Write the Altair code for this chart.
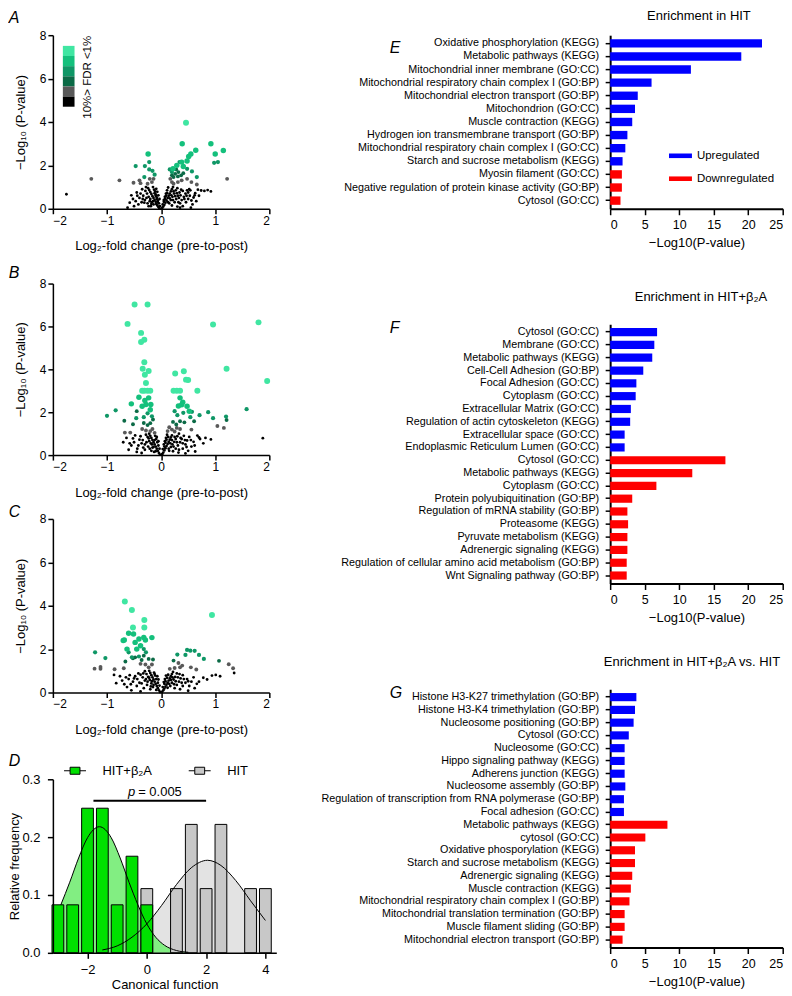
import altair as alt
import pandas as pd

FONT = "Liberation Sans"

# ---------------- Panels A-C : volcano plots ----------------
CAT_ORDER = ["FDR<1%", "FDR-2", "FDR-3", "FDR-4", "FDR<10%", "NS"]
CAT_COLORS = ["#40e6a2", "#14c07c", "#0f9766", "#0b6a46", "#595959", "#000000"]
CAT_SIZES = [36, 30, 18, 15, 15, 8]
DRAW_ORDER = ["NS", "FDR<10%", "FDR-4", "FDR-3", "FDR-2", "FDR<1%"]

A_C1 = [(0.46, 3.96)]
A_C2 = [(0.39, 3.00), (0.92, 3.00), (-0.24, 2.52), (0.64, 2.70), (0.55, 2.52), (0.51, 2.41),
        (1.15, 2.69), (1.00, 2.52), (0.48, 2.20), (0.38, 2.15), (0.29, 2.00), (0.41, 1.95), (0.22, 1.84)]
A_C3 = [(-0.47, 1.97), (-0.30, 1.97), (-0.22, 2.15), (-0.22, 1.81), (-0.16, 1.75), (-0.12, 1.57),
        (-0.31, 1.46), (0.98, 2.12), (1.05, 2.15), (0.57, 1.72), (0.66, 1.46), (0.20, 1.69),
        (0.16, 1.81), (0.34, 2.15), (0.48, 1.84)]
A_C4 = [(0.26, 1.61), (0.32, 1.69), (0.37, 1.54), (0.23, 1.46), (0.31, 1.49), (0.41, 1.64),
        (0.20, 1.54), (0.28, 1.81)]
A_GR = [(-1.29, 1.38), (-0.77, 1.31), (-0.51, 1.20), (-0.40, 1.31), (-0.38, 1.18), (-0.21, 1.38),
        (-0.17, 1.23), (-0.25, 1.15), (-0.14, 1.38), (0.20, 1.23), (0.23, 1.15), (0.31, 1.23),
        (0.38, 1.31), (0.48, 1.38), (0.56, 1.23), (0.66, 1.12), (1.22, 1.38), (0.17, 1.38)]
A_NS = [(-0.03, 0.02), (-0.05, 0.08), (-0.07, 0.15), (-0.09, 0.22), (-0.10, 0.32), (-0.12, 0.40),
        (-0.14, 0.50), (-0.16, 0.58), (-0.18, 0.68), (-0.20, 0.77), (-0.22, 0.86), (-0.24, 0.95),
        (-0.06, 0.30), (-0.08, 0.45), (-0.10, 0.60), (-0.12, 0.72), (-0.13, 0.88), (-0.15, 1.00),
        (-0.17, 0.30), (-0.20, 0.45), (-0.23, 0.55), (-0.26, 0.70), (-0.29, 0.82), (-0.14, 0.20),
        (-0.19, 0.12), (-0.25, 0.25), (-0.30, 0.40), (-0.33, 0.60), (-0.36, 0.30), (-0.40, 0.50),
        (-0.42, 0.20), (-0.47, 0.35), (-0.50, 0.12), (-0.58, 0.28), (-0.62, 0.05), (-0.35, 0.90),
        (-0.28, 1.00), (-1.75, 0.67), (0.02, 0.03), (0.04, 0.10), (0.06, 0.18), (0.08, 0.28),
        (0.10, 0.38), (0.12, 0.50), (0.14, 0.60), (0.16, 0.70), (0.18, 0.80), (0.20, 0.90),
        (0.22, 1.00), (0.05, 0.40), (0.07, 0.55), (0.09, 0.70), (0.11, 0.85), (0.13, 0.98),
        (0.15, 0.25), (0.18, 0.40), (0.21, 0.55), (0.24, 0.70), (0.27, 0.85), (0.30, 0.95),
        (0.20, 0.15), (0.25, 0.30), (0.28, 0.45), (0.31, 0.60), (0.34, 0.75), (0.37, 0.88),
        (0.30, 0.10), (0.35, 0.25), (0.38, 0.40), (0.42, 0.55), (0.45, 0.70), (0.48, 0.85),
        (0.40, 0.12), (0.46, 0.30), (0.50, 0.45), (0.53, 0.60), (0.56, 0.38), (0.60, 0.52),
        (0.58, 0.20), (0.63, 0.72), (0.52, 0.90), (0.68, 0.88), (0.74, 0.84), (0.80, 0.82),
        (0.86, 0.86), (0.92, 0.80), (0.65, 0.35), (0.55, 0.05),
        (-0.02, 0.12), (-0.04, 0.25), (-0.06, 0.38), (-0.08, 0.52), (-0.10, 0.66), (-0.11, 0.80),
        (-0.03, 0.45), (-0.05, 0.62), (-0.07, 0.78), (-0.09, 0.92), (-0.15, 0.35), (-0.18, 0.22),
        (-0.21, 0.35), (-0.23, 0.12), (-0.27, 0.50), (-0.31, 0.28), (-0.34, 0.45), (-0.38, 0.70),
        (-0.44, 0.60), (0.03, 0.20), (0.05, 0.32), (0.07, 0.45), (0.09, 0.60), (0.11, 0.72),
        (0.13, 0.30), (0.16, 0.48), (0.19, 0.62), (0.22, 0.40), (0.23, 0.80), (0.26, 0.58),
        (0.29, 0.72), (0.32, 0.30), (0.33, 0.50), (0.36, 0.62), (0.40, 0.82), (0.43, 0.45),
        (0.47, 0.60), (0.50, 0.75), (0.54, 0.85), (0.62, 0.62), (0.70, 0.60), (0.35, 0.05),
        (-0.45, 0.75), (-0.52, 0.45), (-0.55, 0.62)]

B_C1 = [(-0.49, 7.02), (-0.25, 7.02), (-0.62, 6.12), (1.80, 6.19), (0.96, 6.09), (-0.37, 5.70),
        (-0.31, 5.38), (-0.37, 5.27), (-0.31, 4.33), (-0.34, 4.03), (-0.23, 3.92), (-0.30, 3.75),
        (0.26, 3.81), (0.42, 3.91), (0.46, 3.52), (0.50, 3.50), (1.21, 4.03), (1.96, 3.46),
        (-0.28, 3.36), (-0.35, 3.00), (-0.31, 3.00), (-0.25, 3.00), (-0.20, 3.00), (0.23, 3.00),
        (0.29, 3.00), (0.35, 3.00), (0.67, 3.00)]
B_C2 = [(-0.41, 2.70), (-0.23, 2.67), (-0.55, 2.39), (-0.28, 2.36), (-0.19, 2.36), (-0.35, 2.28),
        (0.35, 2.67), (0.40, 2.47), (0.32, 2.29), (0.48, 2.28), (0.52, 2.05), (-0.20, 2.12),
        (-0.30, 2.55), (0.38, 2.35)]
B_C3 = [(-1.00, 1.83), (-0.84, 2.09), (-0.46, 1.72), (-0.32, 1.77), (-0.17, 1.81), (0.25, 2.05),
        (0.30, 1.86), (0.57, 2.02), (0.71, 1.86), (0.87, 2.00), (0.96, 1.72), (1.20, 1.80),
        (1.58, 2.14), (0.54, 1.77), (0.41, 1.97), (-0.25, 1.95)]
B_C4 = [(-0.68, 1.60), (-0.52, 1.44), (-0.32, 1.50), (-0.20, 1.49), (-0.15, 1.66), (0.28, 1.43),
        (0.35, 1.58), (0.43, 1.53), (1.21, 1.64), (0.61, 1.58), (-0.45, 2.05), (-0.25, 1.40),
        (0.22, 1.55)]
B_GR = [(-0.67, 1.05), (-0.57, 1.05), (-0.35, 1.22), (-0.16, 1.22), (-0.20, 1.12), (-0.12, 1.04),
        (0.15, 1.30), (0.20, 1.19), (0.29, 1.27), (0.35, 1.22), (0.56, 1.19), (1.04, 1.36),
        (1.16, 1.27), (0.12, 1.12), (-0.28, 1.15), (0.25, 1.10)]
B_NS = [(-0.02, 0.02), (-0.04, 0.10), (-0.06, 0.20), (-0.08, 0.30), (-0.10, 0.40), (-0.12, 0.50),
        (-0.14, 0.60), (-0.16, 0.70), (-0.18, 0.80), (-0.20, 0.90), (-0.22, 1.00), (-0.05, 0.45),
        (-0.07, 0.60), (-0.09, 0.75), (-0.11, 0.90), (-0.13, 0.15), (-0.16, 0.35), (-0.19, 0.55),
        (-0.22, 0.65), (-0.25, 0.85), (-0.28, 0.95), (-0.18, 0.20), (-0.24, 0.40), (-0.30, 0.50),
        (-0.34, 0.70), (-0.38, 0.88), (-0.30, 0.25), (-0.42, 0.45), (-0.45, 0.15), (-0.50, 0.60),
        (-0.55, 0.45), (-0.60, 0.25), (-0.64, 0.80), (-0.70, 0.60), (-0.48, 0.92), (-0.36, 0.10),
        (0.02, 0.04), (0.04, 0.12), (0.06, 0.22), (0.08, 0.32), (0.10, 0.42), (0.12, 0.52),
        (0.14, 0.62), (0.16, 0.72), (0.18, 0.82), (0.20, 0.92), (0.05, 0.50), (0.07, 0.65),
        (0.09, 0.80), (0.11, 0.95), (0.15, 0.20), (0.18, 0.38), (0.21, 0.50), (0.24, 0.62),
        (0.27, 0.75), (0.30, 0.88), (0.33, 1.00), (0.22, 0.18), (0.27, 0.30), (0.31, 0.45),
        (0.35, 0.60), (0.38, 0.75), (0.42, 0.90), (0.32, 0.12), (0.40, 0.30), (0.45, 0.50),
        (0.48, 0.68), (0.52, 0.85), (0.50, 0.20), (0.56, 0.40), (0.60, 0.62), (0.63, 0.17),
        (0.67, 0.91), (0.72, 0.75), (0.82, 0.80), (0.92, 0.73), (0.78, 0.55), (1.88, 0.79),
        (0.45, 0.08),
        (-0.03, 0.30), (-0.05, 0.65), (-0.08, 0.85), (-0.10, 0.18), (-0.12, 0.70), (-0.14, 0.38),
        (-0.17, 0.50), (-0.21, 0.30), (-0.23, 0.78), (-0.27, 0.60), (-0.33, 0.35), (-0.36, 0.55),
        (-0.40, 0.72), (-0.44, 0.30), (-0.52, 0.78), (-0.58, 0.55), (0.03, 0.28), (0.06, 0.40),
        (0.08, 0.58), (0.10, 0.72), (0.13, 0.85), (0.14, 0.30), (0.17, 0.55), (0.20, 0.70),
        (0.23, 0.40), (0.25, 0.85), (0.29, 0.60), (0.33, 0.25), (0.36, 0.80), (0.40, 0.55),
        (0.44, 0.70), (0.47, 0.38), (0.55, 0.70), (0.62, 0.45), (0.70, 0.82)]

C_C1 = [(-0.67, 4.20), (-0.54, 3.80), (0.94, 3.57), (-0.31, 3.34), (-0.31, 3.00), (-0.52, 3.00)]
C_C2 = [(-0.60, 2.73), (-0.51, 2.70), (-0.68, 2.42), (-0.32, 2.54), (-0.17, 2.53), (-0.48, 2.31),
        (-0.63, 2.00), (-0.38, 2.16), (-0.29, 2.42), (-0.41, 2.47), (-0.70, 2.40), (-0.45, 2.00)]
C_C3 = [(-1.22, 1.85), (-1.03, 1.59), (-0.32, 2.00), (-0.28, 1.85), (-0.54, 1.62), (-0.41, 1.66),
        (0.48, 1.96), (0.54, 1.93), (0.62, 1.92), (0.70, 1.73), (0.79, 1.55), (0.30, 1.75),
        (0.45, 1.73), (-0.60, 1.85)]
C_C4 = [(-0.66, 1.43), (-0.48, 1.62), (-0.23, 1.55), (-0.15, 1.52), (0.23, 1.47), (1.07, 1.46),
        (-0.32, 1.70), (-0.52, 1.58), (-0.36, 1.50)]
C_GR = [(-1.23, 1.10), (-1.12, 1.18), (-1.12, 1.09), (-0.86, 1.07), (-0.69, 1.12), (-0.38, 1.32),
        (-0.29, 1.29), (-0.23, 1.16), (-0.17, 1.29), (0.16, 1.09), (0.25, 1.13), (0.32, 1.36),
        (0.35, 1.16), (0.55, 1.16), (0.65, 1.06), (1.25, 1.30), (1.33, 1.12), (0.39, 1.24)]
C_NS = [(-0.02, 0.02), (-0.04, 0.10), (-0.06, 0.20), (-0.08, 0.30), (-0.10, 0.40), (-0.12, 0.50),
        (-0.14, 0.60), (-0.16, 0.70), (-0.18, 0.80), (-0.20, 0.90), (-0.22, 1.00), (-0.06, 0.45),
        (-0.09, 0.62), (-0.11, 0.78), (-0.13, 0.92), (-0.15, 0.25), (-0.18, 0.42), (-0.21, 0.58),
        (-0.24, 0.72), (-0.27, 0.85), (-0.30, 0.98), (-0.20, 0.15), (-0.26, 0.35), (-0.30, 0.55),
        (-0.34, 0.70), (-0.38, 0.82), (-0.32, 0.20), (-0.40, 0.45), (-0.44, 0.62), (-0.48, 0.75),
        (-0.45, 0.30), (-0.52, 0.50), (-0.56, 0.38), (-0.60, 0.62), (-0.63, 0.25), (-0.68, 0.38),
        (-0.72, 0.55), (-0.83, 0.43), (-0.87, 0.81), (-0.76, 0.75), (-0.55, 0.10), (-0.38, 0.05),
        (0.02, 0.03), (0.04, 0.10), (0.06, 0.18), (0.08, 0.27), (0.10, 0.36), (0.12, 0.45),
        (0.14, 0.55), (0.16, 0.65), (0.18, 0.75), (0.20, 0.85), (0.22, 0.95), (0.06, 0.40),
        (0.08, 0.52), (0.11, 0.68), (0.13, 0.82), (0.17, 0.30), (0.20, 0.45), (0.23, 0.60),
        (0.26, 0.72), (0.29, 0.88), (0.25, 0.20), (0.29, 0.35), (0.33, 0.50), (0.36, 0.65),
        (0.40, 0.80), (0.35, 0.15), (0.40, 0.30), (0.45, 0.45), (0.48, 0.62), (0.52, 0.30),
        (0.56, 0.50), (0.60, 0.70), (0.62, 0.20), (0.70, 0.50), (0.78, 0.68), (0.94, 0.78),
        (1.01, 0.81), (1.09, 0.75), (1.35, 0.90), (0.85, 0.60), (0.50, 0.08),
        (-0.03, 0.32), (-0.05, 0.60), (-0.07, 0.75), (-0.09, 0.12), (-0.12, 0.85), (-0.14, 0.35),
        (-0.17, 0.52), (-0.19, 0.28), (-0.22, 0.68), (-0.25, 0.50), (-0.28, 0.62), (-0.33, 0.88),
        (-0.36, 0.42), (-0.42, 0.88), (-0.50, 0.65), (-0.58, 0.80), (-0.65, 0.70), (0.03, 0.25),
        (0.05, 0.48), (0.07, 0.62), (0.09, 0.78), (0.12, 0.22), (0.15, 0.40), (0.18, 0.58),
        (0.21, 0.70), (0.24, 0.38), (0.27, 0.52), (0.31, 0.70), (0.34, 0.85), (0.38, 0.45),
        (0.42, 0.62), (0.50, 0.52), (0.66, 0.40)]

# ---------------- Panel D : canonical function histogram ----------------
GROUPS = ["HIT+β₂A", "HIT"]
B2A_CENTERS = [-3.0, -2.5, -2.0, -1.5, -1.0, -0.5, 0.0]
B2A_FREQ = [0.083, 0.083, 0.25, 0.25, 0.083, 0.167, 0.083]
HIT_CENTERS = [0.0, 1.0, 1.5, 2.0, 2.5, 3.5, 4.0]
HIT_FREQ = [0.111, 0.111, 0.222, 0.111, 0.222, 0.111, 0.111]
B2A_CURVE_X = [-2.9, -2.6, -2.3, -2.0, -1.6, -1.2, -0.9, -0.6, -0.3, 0.0, 0.3, 0.6, 1.0, 1.4]
B2A_CURVE_Y = [0.083, 0.122, 0.164, 0.199, 0.218, 0.199, 0.164, 0.122, 0.083, 0.050, 0.027, 0.013, 0.004, 0.001]
HIT_CURVE_X = [-1.5, -1.0, -0.5, 0.0, 0.5, 1.0, 1.5, 2.05, 2.5, 3.0, 3.5, 4.0]
HIT_CURVE_Y = [0.005, 0.012, 0.027, 0.050, 0.082, 0.118, 0.147, 0.160, 0.151, 0.125, 0.090, 0.056]
P_BRACKET = (-1.8, 2.0, 0.263)
P_LABEL = ("p", "= 0.005")

# ---------------- Panels E-G : enrichment bars ----------------
DIRS = ["Upregulated", "Downregulated"]
E_LABELS = ["Oxidative phosphorylation (KEGG)", "Metabolic pathways (KEGG)",
            "Mitochondrial inner membrane (GO:CC)", "Mitochondrial respiratory chain complex I (GO:BP)",
            "Mitochondrial electron transport (GO:BP)", "Mitochondrion (GO:CC)",
            "Muscle contraction (KEGG)", "Hydrogen ion transmembrane transport (GO:BP)",
            "Mitochondrial respiratory chain complex I (GO:CC)", "Starch and sucrose metabolism (KEGG)",
            "Myosin filament (GO:CC)", "Negative regulation of protein kinase activity (GO:BP)",
            "Cytosol (GO:CC)"]
E_VALUES = [22.0, 19.0, 11.7, 6.0, 4.0, 3.6, 3.2, 2.5, 2.2, 1.8, 1.7, 1.7, 1.5]
E_UP = 10
F_LABELS = ["Cytosol (GO:CC)", "Membrane (GO:CC)", "Metabolic pathways (KEGG)",
            "Cell-Cell Adhesion (GO:BP)", "Focal Adhesion (GO:CC)", "Cytoplasm (GO:CC)",
            "Extracellular Matrix (GO:CC)", "Regulation of actin cytoskeleton (KEGG)",
            "Extracellular space (GO:CC)", "Endoplasmic Reticulum Lumen (GO:CC)",
            "Cytosol (GO:CC)", "Metabolic pathways (KEGG)", "Cytoplasm (GO:CC)",
            "Protein polyubiquitination (GO:BP)", "Regulation of mRNA stability (GO:BP)",
            "Proteasome (KEGG)", "Pyruvate metabolism (KEGG)", "Adrenergic signaling (KEGG)",
            "Regulation of cellular amino acid metabolism (GO:BP)", "Wnt Signaling pathway (GO:BP)"]
F_VALUES = [6.8, 6.4, 6.1, 4.8, 3.8, 3.7, 3.0, 2.9, 2.1, 2.1,
            16.7, 11.9, 6.7, 3.2, 2.5, 2.6, 2.5, 2.5, 2.4, 2.4]
F_UP = 10
G_LABELS = ["Histone H3-K27 trimethylation (GO:BP)", "Histone H3-K4 trimethylation (GO:BP)",
            "Nucleosome positioning (GO:BP)", "Cytosol (GO:CC)", "Nucleosome (GO:CC)",
            "Hippo signaling pathway (KEGG)", "Adherens junction (KEGG)",
            "Nucleosome assembly (GO:BP)", "Regulation of transcription from RNA polymerase (GO:BP)",
            "Focal adhesion (GO:CC)", "Metabolic pathways (KEGG)", "cytosol (GO:CC)",
            "Oxidative phosporylation (KEGG)", "Starch and sucrose metabolism (KEGG)",
            "Adrenergic signaling (KEGG)", "Muscle contraction (KEGG)",
            "Mitochondrial respiratory chain complex I (GO:BP)",
            "Mitochondrial translation termination (GO:BP)", "Muscle filament sliding (GO:BP)",
            "Mitochondrial electron transport (GO:BP)"]
G_VALUES = [3.8, 3.6, 3.4, 2.7, 2.1, 2.1, 2.1, 2.2, 2.0, 2.0,
            8.3, 5.1, 3.6, 3.6, 3.2, 3.0, 2.8, 2.1, 2.1, 1.8]
G_UP = 10


def text_layer(txt, x, y, size=16, italic=True, align="left", baseline="top", angle=0, opacity=1):
    kw = dict(fontSize=size, align=align, baseline=baseline, color="black", font=FONT, opacity=opacity)
    if italic:
        kw["fontStyle"] = "italic"
    if angle:
        kw["angle"] = angle
    return alt.Chart(pd.DataFrame({"t": [txt]})).mark_text(**kw).encode(
        text="t:N", x=alt.value(x), y=alt.value(y))


def volcano(groups, height, letter, letter_y, show_legend):
    size_of = dict(zip(CAT_ORDER, CAT_SIZES))
    rows = []
    for cat in DRAW_ORDER:
        for x, y in groups[cat]:
            rows.append({"lfc": x, "nlp": y, "cat": cat, "sz": size_of[cat]})
    df = pd.DataFrame(rows)
    color_scale = alt.Scale(domain=CAT_ORDER, range=CAT_COLORS)
    pts = alt.Chart(df).mark_circle(opacity=1, strokeWidth=0).encode(
        x=alt.X("lfc:Q", scale=alt.Scale(domain=[-2, 2], nice=False, zero=False),
                axis=alt.Axis(values=[-2, -1, 0, 1, 2], title="Log₂-fold change (pre-to-post)",
                              titleY=31, titleBaseline="top", tickSize=5, labelPadding=1.5,
                              labelFontSize=12, titleFontSize=13, domainWidth=1.5, tickWidth=1.5)),
        y=alt.Y("nlp:Q", scale=alt.Scale(domain=[0, 8], nice=False),
                axis=alt.Axis(values=[0, 2, 4, 6, 8], title="−Log₁₀ (P-value)", titleX=-38,
                              titleY=height / 2, titleAngle=270, titleBaseline="top",
                              titleAlign="center", tickSize=5, labelPadding=2, labelFontSize=12,
                              titleFontSize=13, domainWidth=1.5, tickWidth=1.5)),
        color=alt.Color("cat:N", scale=color_scale, legend=None),
        size=alt.Size("sz:Q", scale=None),
    )
    layers = [pts, text_layer(letter, -44.3, letter_y)]
    if show_legend:
        key = alt.Chart(pd.DataFrame({"lg": CAT_ORDER, "cat": CAT_ORDER})).mark_rect(opacity=1).encode(
            y=alt.Y("lg:N", sort=CAT_ORDER,
                    scale=alt.Scale(domain=CAT_ORDER, range=[10.7, 71.7], paddingInner=0, paddingOuter=0),
                    axis=None),
            x=alt.value(10), x2=alt.value(21.7),
            color=alt.Color("cat:N", scale=color_scale, legend=None))
        layers.append(key)
        layers.append(text_layer("10%> FDR <1%", 29.4, 83.7, size=11.5, italic=False,
                                 align="left", baseline="top", angle=270))
        return alt.layer(*layers).resolve_scale(y="independent").properties(width=217, height=height)
    return alt.layer(*layers).properties(width=217, height=height)


def panel_d():
    xd = alt.X("cx:Q", scale=alt.Scale(domain=[-3, 4.2], nice=False, zero=False),
               axis=alt.Axis(values=[-2, 0, 2, 4], title="Canonical function", titleY=26,
                             titleBaseline="top", tickSize=5.5, labelPadding=5, labelFontSize=13,
                             titleFontSize=13, domainWidth=1.5, tickWidth=1.5, zindex=1))
    yd = alt.Y("freq:Q", stack=None, scale=alt.Scale(domain=[0, 0.3], nice=False),
               axis=alt.Axis(values=[0, 0.1, 0.2, 0.3], format=".1f", title="Relative frequency",
                             titleX=-44, titleY=87, titleAngle=270, titleBaseline="top",
                             titleAlign="center", tickSize=5.5, labelPadding=7.5, labelFontSize=13,
                             titleFontSize=13, domainWidth=1.5, tickWidth=1.5, zindex=1))
    hit_curve = pd.DataFrame({"cx": HIT_CURVE_X, "freq": HIT_CURVE_Y})
    b2a_curve = pd.DataFrame({"cx": B2A_CURVE_X, "freq": B2A_CURVE_Y})
    bars_df = pd.DataFrame({"cx": HIT_CENTERS + B2A_CENTERS, "freq": HIT_FREQ + B2A_FREQ,
                            "grp": [GROUPS[1]] * len(HIT_CENTERS) + [GROUPS[0]] * len(B2A_CENTERS)})
    leg = alt.Legend(orient="none", legendX=10.7, legendY=-20.3, direction="horizontal", title=None,
                     symbolType="M-1,0H-0.45M0.45,0H1M-0.45,-0.32H0.45V0.32H-0.45Z",
                     symbolSize=484, symbolStrokeColor="black", symbolStrokeWidth=1,
                     symbolOpacity=1, labelFontSize=13, labelOffset=16, columnPadding=34, padding=0)
    grey_area = alt.Chart(hit_curve).mark_area(color="#e3e3e3", opacity=1, interpolate="monotone").encode(x=xd, y=yd)
    green_area = alt.Chart(b2a_curve).mark_area(color="#82ee82", opacity=1, interpolate="monotone").encode(x=xd, y=yd)
    bars = alt.Chart(bars_df).mark_bar(width=11.8, stroke="black", strokeWidth=1, opacity=1).encode(
        x=xd, y=yd,
        color=alt.Color("grp:N", scale=alt.Scale(domain=GROUPS, range=["#00e000", "#c8c8c8"]), legend=leg))
    grey_line = alt.Chart(hit_curve).mark_line(color="black", strokeWidth=1, interpolate="monotone").encode(x=xd, y=yd)
    green_line = alt.Chart(b2a_curve).mark_line(color="black", strokeWidth=1, interpolate="monotone").encode(x=xd, y=yd)
    rule = alt.Chart(pd.DataFrame({"cx": [P_BRACKET[0]], "cx2": [P_BRACKET[1]], "freq": [P_BRACKET[2]]})).mark_rule(
        color="black", strokeWidth=2).encode(x=xd, x2=alt.X2("cx2:Q"), y=yd)
    p_txt = alt.Chart(pd.DataFrame({"cx": [-0.39], "freq": [0.271], "t": [P_LABEL[0]]})).mark_text(
        fontSize=13, fontStyle="italic", align="right", baseline="alphabetic", font=FONT, color="black").encode(
        x=xd, y=yd, text="t:N")
    eq_txt = alt.Chart(pd.DataFrame({"cx": [-0.29], "freq": [0.271], "t": [P_LABEL[1]]})).mark_text(
        fontSize=13, align="left", baseline="alphabetic", font=FONT, color="black").encode(
        x=xd, y=yd, text="t:N")
    letter = text_layer("D", -44.3, -26)
    spacer = text_layer(" ", 232, 100, size=10, italic=False, opacity=0)
    return alt.layer(grey_area, green_area, bars, grey_line, green_line, rule, p_txt, eq_txt,
                     letter, spacer).properties(width=224, height=174)


def enrich(labels, values, n_up, title, title_cx, title_y, height, letter, letter_y, show_legend, spacer):
    df = pd.DataFrame({
        "key": [f"{i:02d}|{lab}" for i, lab in enumerate(labels)],
        "value": values,
        "dir": [DIRS[0]] * n_up + [DIRS[1]] * (len(labels) - n_up),
    })
    if show_legend:
        leg = alt.Legend(orient="none", legendX=59, legendY=109.4, direction="vertical", title=None,
                         symbolType="M-1,-0.2H1V0.2H-1Z", symbolSize=529, symbolStrokeWidth=0,
                         symbolOpacity=1, labelFontSize=11.5, labelOffset=5, rowPadding=6, padding=0)
    else:
        leg = None
    bars = alt.Chart(df).mark_bar(opacity=1).encode(
        y=alt.Y("key:N", sort="ascending", scale=alt.Scale(paddingInner=0.36, paddingOuter=0.3),
                axis=alt.Axis(labelExpr="split(datum.label, '|')[1]", title=None, tickSize=5,
                              labelPadding=6.5, labelFontSize=10.8, labelLimit=400,
                              domainWidth=2, tickWidth=1.5)),
        x=alt.X("value:Q", stack=None, scale=alt.Scale(domain=[0, 25], nice=False),
                axis=alt.Axis(values=[0, 5, 10, 15, 20, 25], title="−Log10(P-value)", titleY=28,
                              titleBaseline="top", tickSize=6, labelPadding=4, labelFontSize=12.5,
                              titleFontSize=13, domainWidth=2, tickWidth=1.5)),
        color=alt.Color("dir:N", scale=alt.Scale(domain=DIRS, range=["#0000ff", "#ff0000"]), legend=leg),
    )
    layers = [bars,
              text_layer(title, title_cx, title_y, size=13, italic=False, align="center", baseline="alphabetic"),
              text_layer(letter, -221, letter_y)]
    if spacer:
        layers.append(text_layer(" ", -300, 60, size=10, italic=False, opacity=0))
    return alt.layer(*layers).properties(width=173, height=height)


def res(c):
    return c.resolve_scale(x="independent", y="independent", color="independent", size="independent")


pA = volcano({"FDR<1%": A_C1, "FDR-2": A_C2, "FDR-3": A_C3, "FDR-4": A_C4, "FDR<10%": A_GR, "NS": A_NS},
             174, "A", -25.3, True)
pB = volcano({"FDR<1%": B_C1, "FDR-2": B_C2, "FDR-3": B_C3, "FDR-4": B_C4, "FDR<10%": B_GR, "NS": B_NS},
             172, "B", -19, False)
pC = volcano({"FDR<1%": C_C1, "FDR-2": C_C2, "FDR-3": C_C3, "FDR-4": C_C4, "FDR<10%": C_GR, "NS": C_NS},
             174, "C", -15, False)
pD = panel_d()

pE = enrich(E_LABELS, E_VALUES, E_UP, "Enrichment in HIT", 89, -15, 174, "E", 4.7, True, True)
pF = enrich(F_LABELS, F_VALUES, F_UP, "Enrichment in HIT+β₂A", 91, -23, 260, "F", -4, False, False)
pG = enrich(G_LABELS, G_VALUES, G_UP, "Enrichment in HIT+β₂A vs. HIT", 82, -23, 259, "G", -4, False, False)

left = res(alt.vconcat(res(alt.vconcat(res(alt.vconcat(pA, pB, spacing=12)), pC, spacing=5)), pD, spacing=17))
right = res(alt.vconcat(res(alt.vconcat(pE, pF, spacing=41.7)), pG, spacing=31.7))

chart = res(alt.hconcat(left, right, spacing=26.7, padding=0)).configure(font=FONT).configure_view(
    stroke=None).configure_axis(
    labelFont=FONT, titleFont=FONT, domainColor="black", tickColor="black", labelColor="black",
    titleColor="black", grid=False, titleFontWeight="normal").configure_legend(
    labelFont=FONT, labelColor="black")

chart.save("out.html", embed_options={"renderer": "svg", "actions": False})
